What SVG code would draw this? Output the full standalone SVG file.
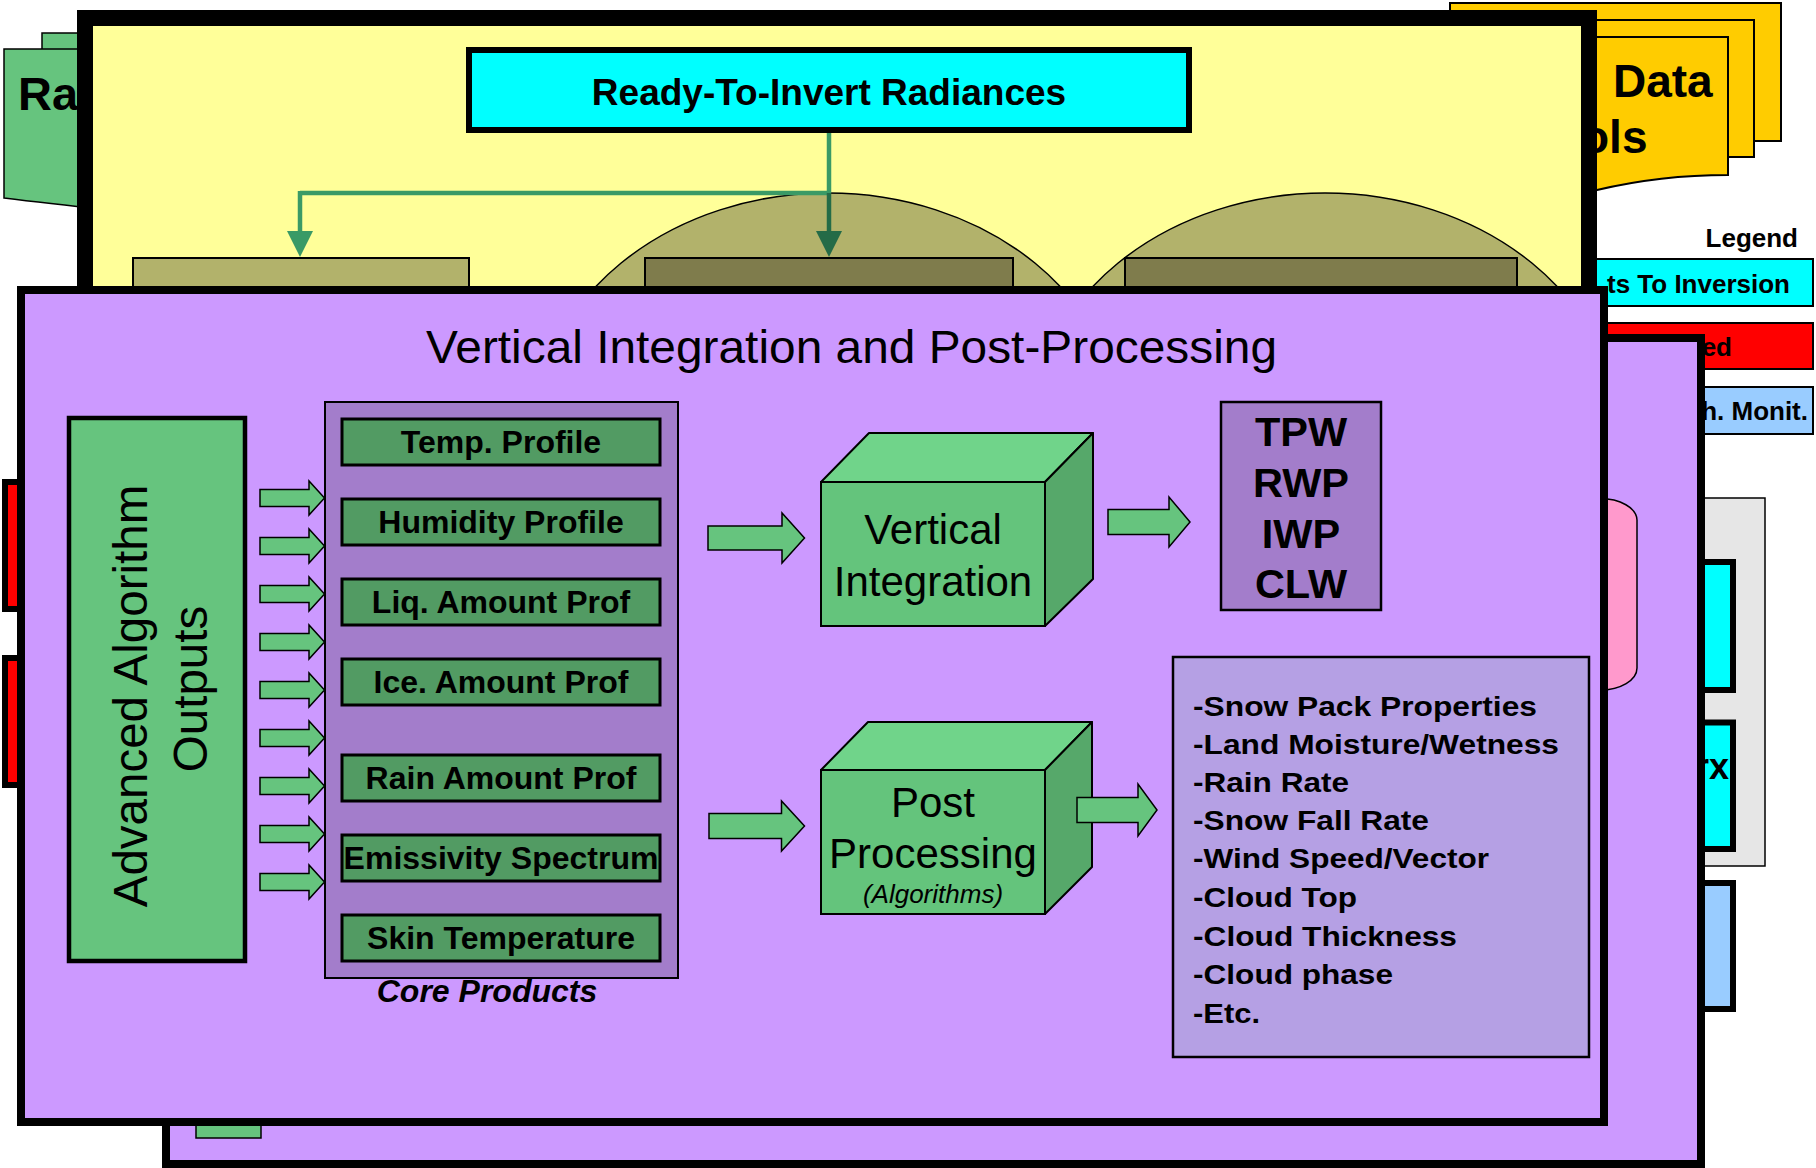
<svg xmlns="http://www.w3.org/2000/svg" width="1816" height="1168" viewBox="0 0 1816 1168">
<defs>
<style>
text{font-family:"Liberation Sans",Arial,Helvetica,sans-serif;fill:#000}
.b{font-weight:bold}
.thin{stroke:#000;stroke-width:1.5}
.doc-g{fill:#66c47e;stroke:#000;stroke-width:1.5}
.doc-y{fill:#ffcc00;stroke:#000;stroke-width:2}
.arrow{fill:#66c47e;stroke:#000;stroke-width:1.5}
.item{fill:#529b63;stroke:#000;stroke-width:3}
.itxt{font-size:32px;font-weight:bold;text-anchor:middle}
.list{font-size:28px;font-weight:bold}
.legend{font-size:26px;font-weight:bold;text-anchor:end}
.cube-front{fill:#64c47c;stroke:#000;stroke-width:2}
.cube-top{fill:#70d48a;stroke:#000;stroke-width:2;stroke-linejoin:round}
.cube-side{fill:#56a86a;stroke:#000;stroke-width:2;stroke-linejoin:round}
.cube-txt{font-size:42px;text-anchor:middle}
.tpw{font-size:41.5px;font-weight:bold;text-anchor:middle}
.feed{fill:none;stroke:#3a9a66;stroke-width:4.5}
</style>
<clipPath id="yellowInner"><rect x="93" y="26" width="1488" height="260"/></clipPath>
<polygon id="smallArrow" points="0,-8.5 49,-8.5 49,-17 64.5,0 49,17 49,8.5 0,8.5"/>
</defs>

<rect width="1816" height="1168" fill="#ffffff"/>

<!-- raw data document stack (left, behind the inversion panel) -->
<g id="raw-docs">
  <rect class="doc-g" x="42" y="33" width="100" height="150"/>
  <path class="doc-g" d="M4,49 H110 V210 Q45,203 4,198 Z"/>
  <text class="b" x="18" y="110" font-size="47">Ra</text>
</g>

<!-- ancillary data document stack (right, behind the inversion panel) -->
<g id="data-docs">
  <rect class="doc-y" x="1450" y="3" width="331" height="138"/>
  <rect class="doc-y" x="1424" y="20" width="330" height="137"/>
  <path class="doc-y" d="M1398,37 H1728 V175 C1680,175 1635,181 1597,190 C1540,204 1460,208 1398,200 Z"/>
  <text class="b" x="1613" y="97" font-size="46">Data</text>
  <text class="b" x="1581" y="153" font-size="46">ols</text>
</g>

<!-- legend -->
<g id="legend">
  <text class="b" x="1798" y="247" font-size="26" text-anchor="end">Legend</text>
  <rect x="1560" y="259" width="253" height="47" fill="#00ffff" stroke="#000" stroke-width="2"/>
  <text class="legend" x="1790" y="293">ts To Inversion</text>
  <rect x="1560" y="323" width="253" height="46" fill="#ff0000" stroke="#000" stroke-width="2"/>
  <text class="legend" x="1732" y="356">ed</text>
  <rect x="1560" y="387" width="253" height="47" fill="#99ccff" stroke="#000" stroke-width="2"/>
  <text class="legend" x="1808" y="420">h. Monit.</text>
</g>

<!-- right-hand stack behind the processing panels -->
<g id="side-stack">
  <rect x="1640" y="498" width="125" height="368" fill="#e6e6e6" stroke="#000" stroke-width="1.5"/>
  <rect x="1640" y="562" width="93" height="128" fill="#00ffff" stroke="#000" stroke-width="6"/>
  <rect x="1640" y="722.5" width="93" height="126.5" fill="#00ffff" stroke="#000" stroke-width="6"/>
  <text class="b" x="1729" y="779" font-size="36" text-anchor="end">rx</text>
  <rect x="1640" y="883" width="93" height="126" fill="#99ccff" stroke="#000" stroke-width="6"/>
</g>

<!-- red tabs on the left edge -->
<g id="red-tabs">
  <rect x="5" y="482" width="40" height="127" fill="#ff0000" stroke="#000" stroke-width="6"/>
  <rect x="5" y="658" width="40" height="127" fill="#ff0000" stroke="#000" stroke-width="6"/>
</g>

<!-- rear processing panel -->
<g id="rear-panel">
  <rect x="166" y="338" width="1535" height="826" fill="#cc99ff" stroke="#000" stroke-width="8"/>
  <rect x="196" y="1100" width="65" height="38" fill="#66c47e" stroke="#000" stroke-width="1.5"/>
  <path d="M1600,498.5 A37,22 0 0 1 1637,520 V668 A37,22 0 0 1 1600,690 Z" fill="#ff99cc" stroke="#000" stroke-width="1.5"/>
</g>

<!-- inversion panel -->
<g id="inversion-panel">
  <rect x="85" y="18" width="1504" height="400" fill="#ffff99" stroke="#000" stroke-width="16"/>
  <g clip-path="url(#yellowInner)">
    <ellipse cx="828" cy="433" rx="293" ry="240" fill="#b2b26b" class="thin"/>
    <ellipse cx="1325" cy="433" rx="293" ry="240" fill="#b2b26b" class="thin"/>
    <rect x="133" y="258" width="336" height="80" fill="#b2b26b" stroke="#000" stroke-width="2"/>
    <rect x="645" y="258" width="368" height="80" fill="#7f7c4c" stroke="#000" stroke-width="2"/>
    <rect x="1125" y="258" width="392" height="80" fill="#7f7c4c" stroke="#000" stroke-width="2"/>
  </g>
</g>

<g id="radiances">
  <rect x="469" y="50" width="720" height="80" fill="#00ffff" stroke="#000" stroke-width="6"/>
  <text class="b" x="829" y="105" font-size="37" text-anchor="middle">Ready-To-Invert Radiances</text>
</g>

<!-- front panel: vertical integration and post-processing -->
<g id="vip-panel">
  <rect x="21" y="290" width="1583" height="832" fill="#cc99ff" stroke="#000" stroke-width="8"/>
  <text x="851.5" y="363" font-size="47" text-anchor="middle" textLength="851" lengthAdjust="spacingAndGlyphs">Vertical Integration and Post-Processing</text>
</g>

<g id="advanced-outputs">
  <rect x="69" y="418" width="176" height="543" fill="#66c47e" stroke="#000" stroke-width="4.5"/>
  <text transform="translate(147,696) rotate(-90)" font-size="47.5" text-anchor="middle">Advanced Algorithm</text>
  <text transform="translate(207,689) rotate(-90)" font-size="47.5" text-anchor="middle">Outputs</text>
</g>

<g id="core-products">
  <rect x="325" y="402" width="353" height="576" fill="#a37dcb" stroke="#000" stroke-width="2"/>
  <rect class="item" x="342" y="419" width="318" height="46"/>
  <text class="itxt" x="501" y="453">Temp. Profile</text>
  <rect class="item" x="342" y="499" width="318" height="46"/>
  <text class="itxt" x="501" y="533">Humidity Profile</text>
  <rect class="item" x="342" y="579" width="318" height="46"/>
  <text class="itxt" x="501" y="613">Liq. Amount Prof</text>
  <rect class="item" x="342" y="659" width="318" height="46"/>
  <text class="itxt" x="501" y="693">Ice. Amount Prof</text>
  <rect class="item" x="342" y="755" width="318" height="46"/>
  <text class="itxt" x="501" y="789">Rain Amount Prof</text>
  <rect class="item" x="342" y="835" width="318" height="46"/>
  <text class="itxt" x="501" y="869">Emissivity Spectrum</text>
  <rect class="item" x="342" y="915" width="318" height="46"/>
  <text class="itxt" x="501" y="949">Skin Temperature</text>
  <text x="487" y="1002" font-size="32" font-weight="bold" font-style="italic" text-anchor="middle">Core Products</text>
</g>

<g id="vertical-integration">
  <polygon class="cube-top" points="821,482 869,433 1093,433 1045,482"/>
  <polygon class="cube-side" points="1045,482 1093,433 1093,579 1045,626"/>
  <rect class="cube-front" x="821" y="482" width="224" height="144"/>
  <text class="cube-txt" x="933" y="544">Vertical</text>
  <text class="cube-txt" x="933" y="596">Integration</text>
</g>

<g id="integrated-products">
  <rect x="1221" y="402" width="160" height="208" fill="#a37dcb" stroke="#000" stroke-width="2.5"/>
  <text class="tpw" x="1301" y="446">TPW</text>
  <text class="tpw" x="1301" y="497">RWP</text>
  <text class="tpw" x="1301" y="548">IWP</text>
  <text class="tpw" x="1301" y="598">CLW</text>
</g>

<g id="post-processing">
  <polygon class="cube-top" points="821,770 868,722 1092,722 1045,770"/>
  <polygon class="cube-side" points="1045,770 1092,722 1092,867 1045,914"/>
  <rect class="cube-front" x="821" y="770" width="224" height="144"/>
  <text class="cube-txt" x="933" y="817">Post</text>
  <text class="cube-txt" x="933" y="868">Processing</text>
  <text x="933" y="903" font-size="26" font-style="italic" text-anchor="middle">(Algorithms)</text>
</g>

<g id="derived-products">
  <rect x="1173" y="657" width="416" height="400" fill="#b5a0e4" stroke="#000" stroke-width="2.5"/>
  <text class="list" x="1193" y="716" textLength="344" lengthAdjust="spacingAndGlyphs">-Snow Pack Properties</text>
  <text class="list" x="1193" y="754" textLength="366" lengthAdjust="spacingAndGlyphs">-Land Moisture/Wetness</text>
  <text class="list" x="1193" y="792" textLength="156" lengthAdjust="spacingAndGlyphs">-Rain Rate</text>
  <text class="list" x="1193" y="830" textLength="236" lengthAdjust="spacingAndGlyphs">-Snow Fall Rate</text>
  <text class="list" x="1193" y="868" textLength="296" lengthAdjust="spacingAndGlyphs">-Wind Speed/Vector</text>
  <text class="list" x="1193" y="907" textLength="164" lengthAdjust="spacingAndGlyphs">-Cloud Top</text>
  <text class="list" x="1193" y="946" textLength="264" lengthAdjust="spacingAndGlyphs">-Cloud Thickness</text>
  <text class="list" x="1193" y="984" textLength="200" lengthAdjust="spacingAndGlyphs">-Cloud phase</text>
  <text class="list" x="1193" y="1023" textLength="67" lengthAdjust="spacingAndGlyphs">-Etc.</text>
</g>

<!-- connectors -->
<g id="connectors">
  <!-- radiance feeds into the inversion modules -->
  <line class="feed" x1="829" y1="133" x2="829" y2="193"/>
  <line class="feed" x1="831" y1="193" x2="300" y2="193"/>
  <line class="feed" x1="300" y1="191" x2="300" y2="232"/>
  <polygon points="287,231 313,231 300,257" fill="#3a9a66"/>
  <line x1="829" y1="193" x2="829" y2="232" stroke="#246b47" stroke-width="4.5"/>
  <polygon points="816,231 842,231 829,257" fill="#246b47"/>

  <!-- algorithm outputs into the core products -->
  <g class="arrow">
    <use href="#smallArrow" x="260" y="498"/>
    <use href="#smallArrow" x="260" y="546"/>
    <use href="#smallArrow" x="260" y="594"/>
    <use href="#smallArrow" x="260" y="642"/>
    <use href="#smallArrow" x="260" y="690"/>
    <use href="#smallArrow" x="260" y="738"/>
    <use href="#smallArrow" x="260" y="786"/>
    <use href="#smallArrow" x="260" y="834"/>
    <use href="#smallArrow" x="260" y="882"/>
  </g>

  <polygon class="arrow" points="708,526 782,526 782,513 804.5,538 782,563 782,550 708,550"/>
  <polygon class="arrow" points="1108,509.5 1169,509.5 1169,497 1190,522 1169,547 1169,534.5 1108,534.5"/>
  <polygon class="arrow" points="709,813.5 781.5,813.5 781.5,801 804.5,826 781.5,851 781.5,838.5 709,838.5"/>
  <polygon class="arrow" points="1077,797.5 1138,797.5 1138,784 1157,810 1138,836 1138,822.5 1077,822.5"/>
</g>
</svg>
